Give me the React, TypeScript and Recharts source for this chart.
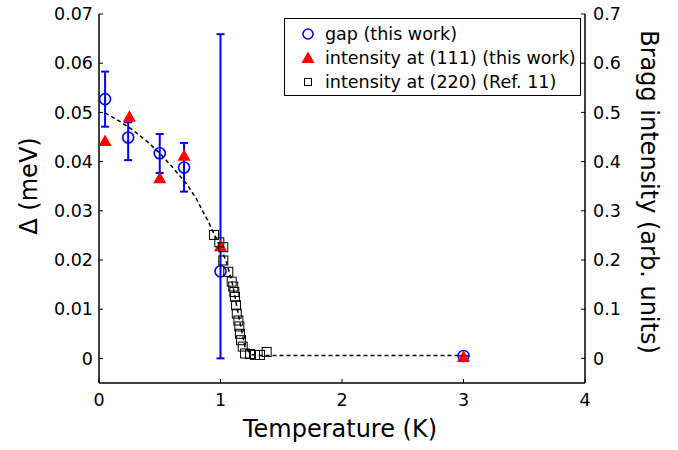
import React from "react";
import {
  ComposedChart,
  Scatter,
  XAxis,
  YAxis,
  ErrorBar,
  Legend,
} from "recharts";

// gap (this work), left axis, meV
const gapT = [0.05, 0.24, 0.5, 0.7, 1.0, 3.0];
const gapDelta = [0.0527, 0.0449, 0.0417, 0.0388, 0.0177, 0.0005];
const gapUpper = [0.0583, 0.048, 0.0456, 0.0438, 0.0659, 0.0005];
const gapLower = [0.0471, 0.0403, 0.0377, 0.0339, 0.0, 0.0005];

// intensity at (111) (this work), right axis
const i111T = [0.05, 0.25, 0.5, 0.7, 1.0, 3.0];
const i111 = [0.442, 0.491, 0.366, 0.412, 0.228, 0.003];

// intensity at (220) (Ref. 11), right axis
const i220T = [
  0.947, 0.99, 1.023, 1.023, 1.064, 1.092, 1.105, 1.114, 1.119, 1.128, 1.134,
  1.147, 1.155, 1.16, 1.169, 1.183, 1.202, 1.243, 1.284, 1.325, 1.38,
];
const i220 = [
  0.251, 0.236, 0.226, 0.199, 0.176, 0.156, 0.146, 0.135, 0.125, 0.108, 0.091,
  0.077, 0.065, 0.05, 0.037, 0.024, 0.01, 0.009, 0.007, 0.007, 0.013,
];

// dashed guide curve, left axis
const fitT = [
  0.05, 0.15, 0.28, 0.4, 0.5, 0.6, 0.72, 0.8, 0.85, 0.9, 0.95, 1.0, 1.05, 1.1,
  1.15, 1.2, 1.25, 1.3, 2.0, 3.0,
];
const fitDelta = [
  0.0499, 0.0485, 0.0464, 0.044, 0.0417, 0.039, 0.0355, 0.0325, 0.0301, 0.0278,
  0.0251, 0.0225, 0.0195, 0.015, 0.0085, 0.0025, 0.0008, 0.0006, 0.0006, 0.0006,
];

const xTicks = [0, 1, 2, 3, 4];
const leftTicks = [0, 0.01, 0.02, 0.03, 0.04, 0.05, 0.06, 0.07];
const rightTicks = [0, 0.1, 0.2, 0.3, 0.4, 0.5, 0.6, 0.7];

const FONT = "'DejaVu Sans', sans-serif";
const BLUE = "#0000ff";
const RED = "#ff0000";

const gapData = gapT.map((t, i) => ({
  t,
  v: gapDelta[i],
  err: [gapDelta[i] - gapLower[i], gapUpper[i] - gapDelta[i]],
}));
const i111Data = i111T.map((t, i) => ({ t, v: i111[i] }));
const i220Data = i220T.map((t, i) => ({ t, v: i220[i] }));
const fitData = fitT.map((t, i) => ({ t, v: fitDelta[i] }));

const OpenCircle = (p: any) => (
  <circle cx={p.cx} cy={p.cy} r={5.5} fill="none" stroke={BLUE} strokeWidth={1.6} />
);
const Triangle = (p: any) => (
  <polygon
    points={`${p.cx},${p.cy - 6.5} ${p.cx - 6.5},${p.cy + 5} ${p.cx + 6.5},${p.cy + 5}`}
    fill={RED}
  />
);
const OpenSquare = (p: any) => (
  <rect x={p.cx - 4.5} y={p.cy - 4.5} width={9} height={9} fill="none" stroke="#000" strokeWidth={1} />
);
const NoDot = () => <g />;

const legendItems = [
  { label: "gap (this work)", marker: "circle" },
  { label: "intensity at (111) (this work)", marker: "triangle" },
  { label: "intensity at (220) (Ref. 11)", marker: "square" },
];

function LegendBox() {
  return (
    <div
      style={{
        width: 297,
        height: 78,
        border: "1px solid #000",
        background: "#fff",
        fontFamily: FONT,
        fontSize: 17.5,
        color: "#000",
        boxSizing: "border-box",
        paddingTop: 3,
      }}
    >
      {legendItems.map((it) => (
        <div key={it.label} style={{ display: "flex", alignItems: "center", height: 24 }}>
          <svg width={40} height={24}>
            {it.marker === "circle" && (
              <circle cx={23} cy={12} r={5} fill="none" stroke={BLUE} strokeWidth={1.6} />
            )}
            {it.marker === "triangle" && <polygon points="23,5.5 16.5,17 29.5,17" fill={RED} />}
            {it.marker === "square" && (
              <rect x={19.5} y={8.5} width={7} height={7} fill="none" stroke="#000" />
            )}
          </svg>
          <span style={{ whiteSpace: "nowrap" }}>{it.label}</span>
        </div>
      ))}
    </div>
  );
}

const tickStyle = { fontFamily: FONT, fontSize: 17.5, fill: "#000" };
const axisLine = { stroke: "#000", strokeWidth: 1.5 };
const tickLine = { stroke: "#000", strokeWidth: 1 };

export default function App() {
  return (
    <div style={{ position: "absolute", left: 0, top: 0, background: "#fff" }}>
      <ComposedChart width={678} height={450} margin={{ top: 14, right: 0, bottom: 0, left: 0 }}>
        <XAxis
          xAxisId="b"
          dataKey="t"
          type="number"
          domain={[0, 4]}
          ticks={xTicks}
          allowDataOverflow
          height={67}
          tickSize={-4}
          tickMargin={15}
          tick={tickStyle}
          axisLine={axisLine}
          tickLine={tickLine}
        />
        <XAxis
          xAxisId="top"
          orientation="top"
          dataKey="t"
          type="number"
          domain={[0, 4]}
          ticks={xTicks}
          height={0}
          tickSize={-4}
          tick={false}
          axisLine={axisLine}
          tickLine={tickLine}
        />
        <YAxis
          yAxisId="left"
          type="number"
          domain={[-0.005, 0.07]}
          ticks={leftTicks}
          allowDataOverflow
          width={99}
          tickSize={-4}
          tickMargin={10}
          tick={tickStyle}
          tickFormatter={(v: number) => (v === 0 ? "0" : v.toFixed(2))}
          axisLine={axisLine}
          tickLine={tickLine}
        />
        <YAxis
          yAxisId="right"
          orientation="right"
          type="number"
          domain={[-0.05, 0.7]}
          ticks={rightTicks}
          allowDataOverflow
          width={93}
          tickSize={-4}
          tickMargin={12}
          tick={tickStyle}
          tickFormatter={(v: number) => (v === 0 ? "0" : v.toFixed(1))}
          axisLine={axisLine}
          tickLine={tickLine}
        />
        <Legend
          layout="vertical"
          align="center"
          verticalAlign="middle"
          wrapperStyle={{ position: "absolute", top: 18, left: 284, width: 297 }}
          content={() => <LegendBox />}
        />
        <Scatter
          name="fit"
          data={fitData}
          dataKey="v"
          xAxisId="b"
          yAxisId="left"
          line={{ stroke: "#000", strokeWidth: 1.5, strokeDasharray: "4 3" }}
          lineType="joint"
          shape={NoDot}
          isAnimationActive={false}
          legendType="none"
        />
        <Scatter
          name="gap (this work)"
          data={gapData}
          dataKey="v"
          xAxisId="b"
          yAxisId="left"
          shape={OpenCircle}
          isAnimationActive={false}
        >
          <ErrorBar dataKey="err" direction="y" width={4} stroke={BLUE} strokeWidth={2} />
        </Scatter>
        <Scatter
          name="intensity at (111) (this work)"
          data={i111Data}
          dataKey="v"
          xAxisId="b"
          yAxisId="right"
          shape={Triangle}
          isAnimationActive={false}
        />
        <Scatter
          name="intensity at (220) (Ref. 11)"
          data={i220Data}
          dataKey="v"
          xAxisId="b"
          yAxisId="right"
          shape={OpenSquare}
          isAnimationActive={false}
        />
        <text x={340} y={437} textAnchor="middle" fontFamily={FONT} fontSize={24} fill="#000">
          Temperature (K)
        </text>
        <text
          x={37}
          y={186}
          textAnchor="middle"
          fontFamily={FONT}
          fontSize={24}
          fill="#000"
          transform="rotate(-90 37 186)"
        >
          Δ (meV)
        </text>
        <text
          x={641}
          y={192}
          textAnchor="middle"
          fontFamily={FONT}
          fontSize={24}
          fill="#000"
          transform="rotate(90 641 192)"
        >
          Bragg intensity (arb. units)
        </text>
      </ComposedChart>
    </div>
  );
}
